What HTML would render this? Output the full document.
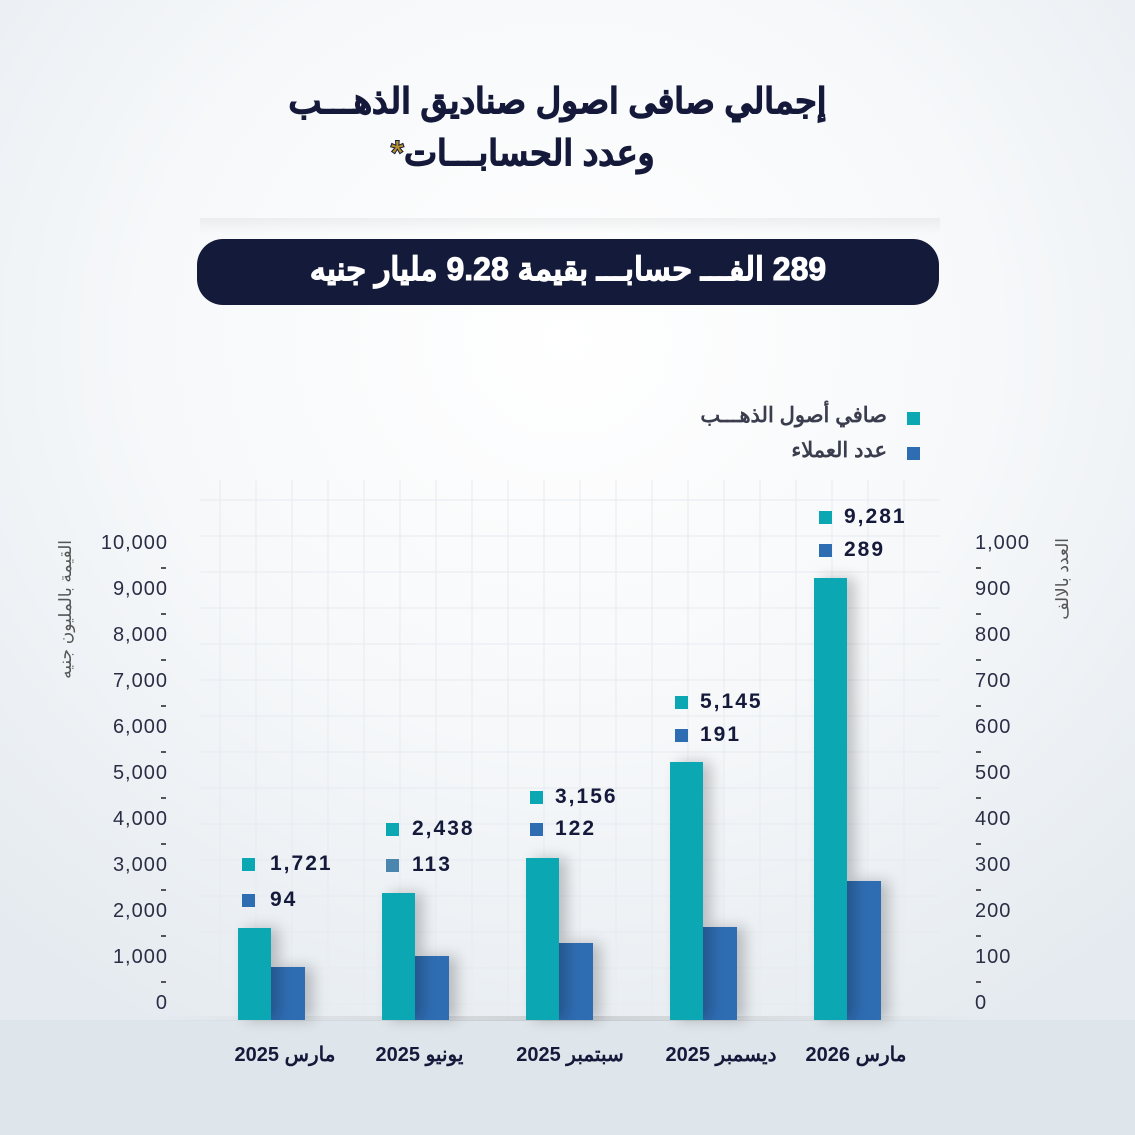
<!DOCTYPE html>
<html><head><meta charset="utf-8"><style>
*{margin:0;padding:0;box-sizing:border-box}
body{width:1135px;height:1135px;overflow:hidden;position:relative;font-family:"Liberation Sans","Noto Sans CJK SC",sans-serif;
background:radial-gradient(ellipse 75% 70% at 50% 30%,#ffffff 0%,#f6f8fa 50%,#e4eaef 100%);}
.a{position:absolute;white-space:nowrap}
.t{font-weight:bold;color:#15193a;direction:rtl}
.n{font-weight:bold;color:#15193a;font-size:21px;letter-spacing:2px}
.sq{position:absolute;width:13px;height:13px}
.tl{position:absolute;right:967px;font-size:20px;color:#2a2e45;text-align:right;letter-spacing:1px}
.tr{position:absolute;left:975px;font-size:20px;color:#2a2e45;letter-spacing:1px}
.d{position:absolute;width:5px;height:1.5px;background:#555}
.bar{position:absolute;box-shadow:8px 0 14px rgba(0,0,0,0.22)}
</style></head><body>
<div class="a" style="left:200px;top:218px;width:740px;height:16px;background:linear-gradient(rgba(0,0,0,0.05),rgba(0,0,0,0))"></div>
<svg class="a" style="left:0;top:480px" width="1135" height="540"><g stroke="#e6ebf0" stroke-width="1">
<path d="M220 0V540M256 0V540M292 0V540M328 0V540M364 0V540M400 0V540M436 0V540M472 0V540M508 0V540M544 0V540M580 0V540M616 0V540M652 0V540M688 0V540M724 0V540M760 0V540M796 0V540M832 0V540M868 0V540M904 0V540"/>
<path d="M200 20H940M200 56H940M200 92H940M200 128H940M200 164H940M200 200H940M200 236H940M200 272H940M200 308H940M200 344H940M200 380H940M200 416H940M200 452H940M200 488H940M200 524H940"/></g></svg>
<div class="a" style="left:0;top:1020px;width:1135px;height:115px;background:#dfe6eb"></div>
<div class="a" style="left:150px;top:1016px;width:840px;height:5px;background:linear-gradient(90deg,rgba(0,0,0,0),rgba(0,0,0,0.12),rgba(0,0,0,0))"></div>

<div class="a t" style="left:0;width:1135px;text-align:center;top:82px;font-size:35px;padding-right:20px;-webkit-text-stroke:1px #15193a">إجمالي صافى اصول صناديق الذهـــب</div>
<div class="a t" style="left:0;width:1135px;text-align:center;top:134px;font-size:35px;padding-right:90px;-webkit-text-stroke:1px #15193a">وعدد الحسابـــات<span style="color:#b8922e">*</span></div>
<div class="a" style="left:197px;top:239px;width:742px;height:66px;background:#141a3a;border-radius:26px"></div>
<div class="a" style="left:197px;top:250px;width:742px;text-align:center;color:#fff;font-weight:bold;font-size:32px;direction:rtl;-webkit-text-stroke:1px #fff">289 الفـــ حسابـــ بقيمة 9.28 مليار جنيه</div>

<div class="sq" style="left:907px;top:412px;background:#0ba8b3"></div>
<div class="a t" style="right:248px;top:403px;font-size:21px;color:#3a3d4d">صافي أصول الذهـــب</div>
<div class="sq" style="left:907px;top:447px;background:#2f6db3"></div>
<div class="a t" style="right:248px;top:438px;font-size:21px;color:#3a3d4d">عدد العملاء</div>

<div class="a" style="left:56px;top:700px;transform-origin:0 0;transform:rotate(-90deg);font-size:17px;color:#555;direction:rtl;width:160px;text-align:right">القيمة بالمليون جنيه</div>
<div class="a" style="left:1053px;top:630px;transform-origin:0 0;transform:rotate(-90deg);font-size:17px;color:#555;direction:rtl;width:92px;text-align:right">العدد بالالف</div>

<div class="tl" style="top:532px">10,000</div><div class="tl" style="top:578px">9,000</div><div class="tl" style="top:624px">8,000</div><div class="tl" style="top:670px">7,000</div><div class="tl" style="top:716px">6,000</div><div class="tl" style="top:762px">5,000</div><div class="tl" style="top:808px">4,000</div><div class="tl" style="top:854px">3,000</div><div class="tl" style="top:900px">2,000</div><div class="tl" style="top:946px">1,000</div><div class="tl" style="top:992px">0</div>
<div class="tr" style="top:532px">1,000</div><div class="tr" style="top:578px">900</div><div class="tr" style="top:624px">800</div><div class="tr" style="top:670px">700</div><div class="tr" style="top:716px">600</div><div class="tr" style="top:762px">500</div><div class="tr" style="top:808px">400</div><div class="tr" style="top:854px">300</div><div class="tr" style="top:900px">200</div><div class="tr" style="top:946px">100</div><div class="tr" style="top:992px">0</div>
<div class="d" style="left:161px;top:567px"></div><div class="d" style="left:161px;top:613px"></div><div class="d" style="left:161px;top:659px"></div><div class="d" style="left:161px;top:705px"></div><div class="d" style="left:161px;top:751px"></div><div class="d" style="left:161px;top:797px"></div><div class="d" style="left:161px;top:843px"></div><div class="d" style="left:161px;top:889px"></div><div class="d" style="left:161px;top:935px"></div><div class="d" style="left:161px;top:981px"></div>
<div class="d" style="left:976px;top:567px"></div><div class="d" style="left:976px;top:613px"></div><div class="d" style="left:976px;top:659px"></div><div class="d" style="left:976px;top:705px"></div><div class="d" style="left:976px;top:751px"></div><div class="d" style="left:976px;top:797px"></div><div class="d" style="left:976px;top:843px"></div><div class="d" style="left:976px;top:889px"></div><div class="d" style="left:976px;top:935px"></div><div class="d" style="left:976px;top:981px"></div>

<div class="bar" style="left:271px;top:967px;width:34px;height:53px;background:#2f6db3"></div>
<div class="bar" style="left:238px;top:928px;width:33px;height:92px;background:#0ba8b3"></div>
<div class="bar" style="left:415px;top:956px;width:34px;height:64px;background:#2f6db3"></div>
<div class="bar" style="left:382px;top:893px;width:33px;height:127px;background:#0ba8b3"></div>
<div class="bar" style="left:559px;top:943px;width:34px;height:77px;background:#2f6db3"></div>
<div class="bar" style="left:526px;top:858px;width:33px;height:162px;background:#0ba8b3"></div>
<div class="bar" style="left:703px;top:927px;width:34px;height:93px;background:#2f6db3"></div>
<div class="bar" style="left:670px;top:762px;width:33px;height:258px;background:#0ba8b3"></div>
<div class="bar" style="left:847px;top:881px;width:34px;height:139px;background:#2f6db3"></div>
<div class="bar" style="left:814px;top:578px;width:33px;height:442px;background:#0ba8b3"></div>

<div class="sq" style="left:242px;top:858px;background:#0ba8b3"></div><div class="a n" style="left:270px;top:852px">1,721</div>
<div class="sq" style="left:242px;top:894px;background:#2f6db3"></div><div class="a n" style="left:270px;top:888px">94</div>
<div class="sq" style="left:386px;top:823px;background:#0ba8b3"></div><div class="a n" style="left:412px;top:817px">2,438</div>
<div class="sq" style="left:386px;top:859px;background:#4a86ad"></div><div class="a n" style="left:412px;top:853px">113</div>
<div class="sq" style="left:530px;top:791px;background:#0ba8b3"></div><div class="a n" style="left:555px;top:785px">3,156</div>
<div class="sq" style="left:530px;top:823px;background:#2f6db3"></div><div class="a n" style="left:555px;top:817px">122</div>
<div class="sq" style="left:675px;top:696px;background:#0ba8b3"></div><div class="a n" style="left:700px;top:690px">5,145</div>
<div class="sq" style="left:675px;top:729px;background:#2f6db3"></div><div class="a n" style="left:700px;top:723px">191</div>
<div class="sq" style="left:819px;top:511px;background:#0ba8b3"></div><div class="a n" style="left:844px;top:505px">9,281</div>
<div class="sq" style="left:819px;top:544px;background:#2f6db3"></div><div class="a n" style="left:844px;top:538px">289</div>

<div class="a n" style="left:225px;top:1042px;direction:rtl;width:120px;text-align:center;font-size:20px">مارس 2025</div>
<div class="a n" style="left:362px;top:1042px;direction:rtl;width:115px;text-align:center;font-size:20px">يونيو 2025</div>
<div class="a n" style="left:505px;top:1042px;direction:rtl;width:130px;text-align:center;font-size:20px">سبتمبر 2025</div>
<div class="a n" style="left:655px;top:1042px;direction:rtl;width:132px;text-align:center;font-size:20px">ديسمبر 2025</div>
<div class="a n" style="left:798px;top:1042px;direction:rtl;width:116px;text-align:center;font-size:20px">مارس 2026</div>
</body></html>
